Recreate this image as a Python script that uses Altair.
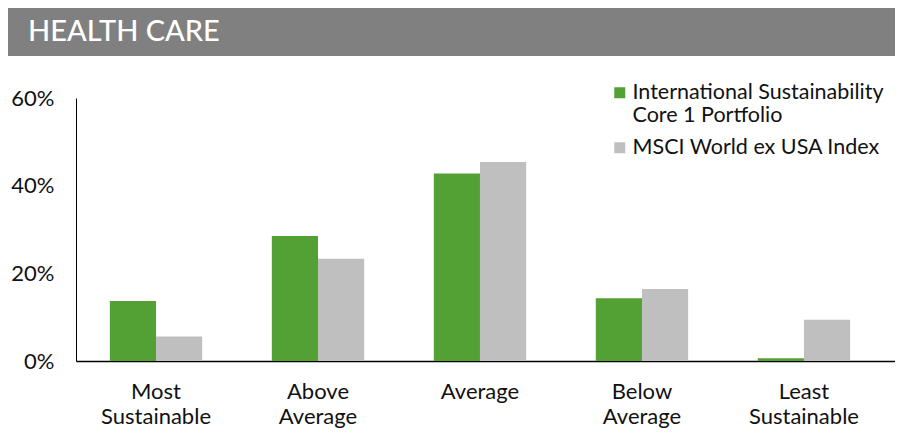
import altair as alt
import pandas as pd

# ---- data ----
categories = ["Most Sustainable", "Above Average", "Average", "Below Average", "Least Sustainable"]
series = ["International Sustainability Core 1 Portfolio", "MSCI World ex USA Index"]
portfolio = [13.7, 28.5, 42.8, 14.3, 0.6]
index_vals = [5.6, 23.3, 45.4, 16.4, 9.4]
colors = ["#53a035", "#bfbfbf"]
y_ticks = [0, 20, 40, 60]
title_text = "HEALTH CARE"

FONT = "Lato"

rows = []
for c, p, i in zip(categories, portfolio, index_vals):
    rows.append({"category": c, "series": series[0], "value": p})
    rows.append({"category": c, "series": series[1], "value": i})
df = pd.DataFrame(rows)

W, H = 819, 263

bars = alt.Chart(df).mark_bar().encode(
    x=alt.X("category:N", sort=categories,
            scale=alt.Scale(paddingInner=0.43, paddingOuter=0.243, align=0.43),
            axis=alt.Axis(title=None, labelAngle=0, ticks=False, domainColor="black",
                          domainWidth=1.5, labelFont=FONT, labelFontSize=22, labelColor="#111",
                          labelPadding=20, labelBaseline="top", labelLineHeight=25,
                          labelExpr="split(datum.label, ' ')")),
    xOffset=alt.XOffset("series:N", sort=series),
    y=alt.Y("value:Q", scale=alt.Scale(domain=[0, 60], nice=False),
            axis=alt.Axis(title=None, values=y_ticks, ticks=False, grid=False,
                          domainColor="black", domainWidth=1, labelFont=FONT,
                          labelFontSize=22, labelColor="#111", labelPadding=22,
                          labelExpr="datum.value + '%'")),
    color=alt.Color("series:N", sort=series, scale=alt.Scale(domain=series, range=colors),
                    legend=alt.Legend(title=None, orient="none", legendX=533, legendY=-16,
                                      symbolType="square", symbolSize=121, symbolStrokeWidth=0,
                                      labelFont=FONT, labelFontSize=21.5, labelColor="#111",
                                      labelLimit=500, labelOffset=2, rowPadding=9,
                                      labelExpr="datum.label == '" + series[0] + "' ? ['International Sustainability', 'Core 1 Portfolio'] : datum.label")),
)

head_df = pd.DataFrame({"t": [title_text]})
header = alt.Chart(head_df).mark_rect(color="#808080").encode(
    x=alt.value(-68), x2=alt.value(819), y=alt.value(-90), y2=alt.value(-42)
)
header_text = alt.Chart(head_df).mark_text(
    color="white", font=FONT, fontSize=29, fontWeight=500, align="left", baseline="middle"
).encode(x=alt.value(-48), y=alt.value(-66), text="t:N")

chart = alt.layer(header, header_text, bars).properties(
    width=W, height=H, background="white",
    padding={"left": 0, "top": 0, "right": 0, "bottom": 12}
).configure_view(stroke=None)

chart.save("out.html", embed_options={"renderer": "svg", "actions": False})
